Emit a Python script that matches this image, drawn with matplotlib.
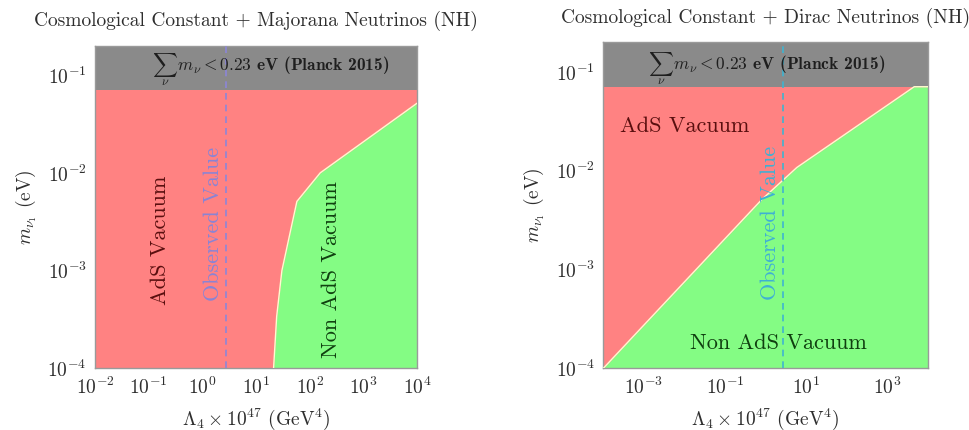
import matplotlib
matplotlib.use("Agg")
import matplotlib.pyplot as plt
from matplotlib.ticker import LogLocator, NullFormatter

plt.rcParams["font.family"] = ["cmr10", "DejaVu Serif"]
plt.rcParams["mathtext.fontset"] = "cm"
plt.rcParams["axes.formatter.use_mathtext"] = True
plt.rcParams["axes.unicode_minus"] = False

# Planck 2015 bound on the lightest mass, and the plotted ranges
m_planck = 0.071
m_lims = (1e-4, 0.2)
lambda_obs = 2.7

# Majorana neutrinos (NH): boundary between AdS and non-AdS vacua
maj_lambda = [21, 24, 30, 57, 155, 1e4]
maj_m = [1e-4, 3.4e-4, 1.0e-3, 5.1e-3, 1.0e-2, 5.2e-2]
maj_xlims = (1e-2, 1e4)
maj_xticks = [1e-2, 1e-1, 1e0, 1e1, 1e2, 1e3, 1e4]

# Dirac neutrinos (NH): boundary between AdS and non-AdS vacua
dir_lambda = [1e-4, 0.79, 5.8, 4.5e3, 1e4]
dir_m = [1e-4, 5.1e-3, 1.08e-2, 0.071, 0.071]
dir_xlims = (1e-4, 1e4)
dir_xticks = [1e-3, 1e-1, 1e1, 1e3]

titles = ["Cosmological Constant + Majorana Neutrinos (NH)",
          "Cosmological Constant + Dirac Neutrinos (NH)"]

RED = "#ff8282"
GREEN = "#84fc84"
GRAY = "#8a8a8a"
EDGE = "#fffbd0"
TXT = "#2e2e2e"

fig = plt.figure(figsize=(9.7, 4.3), dpi=100)
ax1 = fig.add_axes([95 / 970, 61.7 / 430, 322.5 / 970, 322.6 / 430])
ax2 = fig.add_axes([603.3 / 970, 61.7 / 430, 325 / 970, 326 / 430])


def draw_panel(ax, bx, by, xlims, xticks, title, obs_color):
    ax.set_xscale("log")
    ax.set_yscale("log")
    ax.set_xlim(*xlims)
    ax.set_ylim(*m_lims)
    # excluded by cosmology
    ax.fill_between(xlims, m_planck, m_lims[1], color=GRAY, lw=0, zorder=1)
    # AdS region everywhere below the bound
    ax.fill_between(xlims, m_lims[0], m_planck, color=RED, lw=0, zorder=1)
    # non-AdS region below the boundary curve
    ax.fill_between(bx, m_lims[0], by, color=GREEN, lw=0, zorder=2)
    ax.plot(bx, by, color=EDGE, lw=1.0, zorder=3)
    ax.axvline(lambda_obs, ymin=0, ymax=1, color=obs_color, lw=1.2,
               ls=(0, (4, 3)), zorder=4)
    ax.set_xticks(xticks)
    ax.xaxis.set_minor_locator(LogLocator(numticks=30, subs="auto"))
    ax.xaxis.set_minor_formatter(NullFormatter())
    ax.set_yticks([1e-4, 1e-3, 1e-2, 1e-1])
    ax.yaxis.set_minor_formatter(NullFormatter())
    ax.tick_params(axis="both", which="both", length=0, labelsize=14,
                   labelcolor=TXT, pad=6)
    for s in ax.spines.values():
        s.set_color("#9a9a9a")
        s.set_linewidth(1.0)
    ax.set_xlabel(r"$\Lambda_4\times10^{47}$ (GeV$^4$)", fontsize=14,
                  color=TXT, labelpad=6)
    ax.set_ylabel(r"$m_{\nu_1}$ (eV)", fontsize=14, color=TXT, labelpad=6)
    ax.set_title(title, fontsize=14, color=TXT, pad=14)


draw_panel(ax1, maj_lambda, maj_m, maj_xlims, maj_xticks, titles[0], "#8c86d8")
draw_panel(ax2, dir_lambda, dir_m, dir_xlims, dir_xticks, titles[1], "#3fb4d0")

band_label = r"$\sum_{\nu}\, m_{\nu} < \mathbf{0.23}$ eV (Planck 2015)"
for ax, xc, yc in [(ax1, 0.545, 0.925), (ax2, 0.503, 0.918)]:
    ax.text(xc, yc, band_label, transform=ax.transAxes, ha="center",
            va="center", fontsize=12.5, family=["cmb10", "DejaVu Serif"],
            color="#1e1e1e", zorder=5)

# region labels, Majorana panel
ax1.text(0.2016, 0.398, "AdS Vacuum", transform=ax1.transAxes, rotation=90,
         ha="center", va="center", fontsize=16, color="#5a0f0f", zorder=5)
ax1.text(0.367, 0.449, "Observed Value", transform=ax1.transAxes, rotation=90,
         ha="center", va="center", fontsize=16, color="#8a84d4", zorder=5)
ax1.text(0.734, 0.305, "Non AdS Vacuum", transform=ax1.transAxes, rotation=90,
         ha="center", va="center", fontsize=16, color="#0f3f0f", zorder=5)

# region labels, Dirac panel
ax2.text(0.251, 0.741, "AdS Vacuum", transform=ax2.transAxes,
         ha="center", va="center", fontsize=16, color="#5a0f0f", zorder=5)
ax2.text(0.513, 0.446, "Observed Value", transform=ax2.transAxes, rotation=90,
         ha="center", va="center", fontsize=16, color="#3fb0d4", zorder=5)
ax2.text(0.538, 0.077, "Non AdS Vacuum", transform=ax2.transAxes,
         ha="center", va="center", fontsize=16, color="#0f3f0f", zorder=5)

fig.savefig("out.png", dpi=100)
